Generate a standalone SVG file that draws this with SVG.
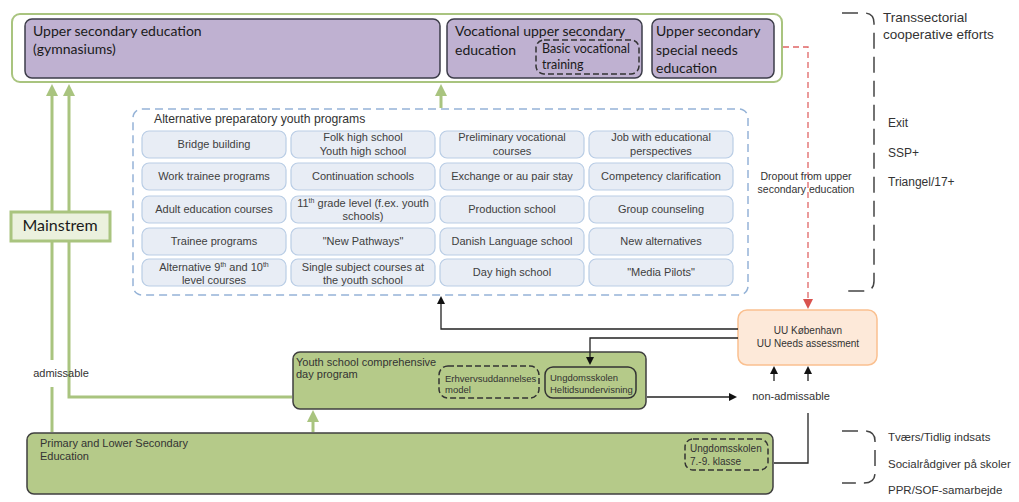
<svg xmlns="http://www.w3.org/2000/svg" width="1019" height="502" viewBox="0 0 1019 502">
<style>
  .cal { font-family: Lato, "Open Sans", sans-serif; fill: #1a1a1a; }
  .ar { font-family: "Liberation Sans", Arial, sans-serif; fill: #333; }
  .purple { fill: #BFB1D1; stroke: #3d3d4a; stroke-width: 1.5; }
  .gbox { fill: #B5CA89; stroke: #3f3f3f; stroke-width: 1.5; }
  .cell { fill: #E8EDF5; stroke: #B9CDE5; stroke-width: 1.2; }
  .cellt { font-family: "Liberation Sans", Arial, sans-serif; font-size: 11px; fill: #404040; text-anchor: middle; }
  .dashd { fill: none; stroke: #333; stroke-width: 1.5; stroke-dasharray: 6 3; }
  .gline { fill: none; stroke: #A9C47F; stroke-width: 3; }
  .bline { fill: none; stroke: #222; stroke-width: 1.3; }
  .brace { fill: none; stroke: #444; stroke-width: 1.5; stroke-dasharray: 16 8; }
  .sup { font-size: 7px; }
</style>
<defs>
  <marker id="ga" viewBox="0 0 12 12" markerWidth="12" markerHeight="12" refX="3" refY="6" orient="auto" markerUnits="userSpaceOnUse">
    <path d="M0,0 L12,6 L0,12 z" fill="#A9C47F"/>
  </marker>
  <marker id="ba" viewBox="0 0 8 8" markerWidth="8" markerHeight="8" refX="1" refY="4" orient="auto" markerUnits="userSpaceOnUse">
    <path d="M0,0 L8,4 L0,8 z" fill="#111"/>
  </marker>
  <marker id="ra" viewBox="0 0 10 10" markerWidth="10" markerHeight="10" refX="1" refY="5" orient="auto" markerUnits="userSpaceOnUse">
    <path d="M0,0 L10,5 L0,10 z" fill="#D9534F"/>
  </marker>
</defs>
<rect width="1019" height="502" fill="#ffffff"/>

<!-- upper secondary frame -->
<g id="upper-frame">
  <rect x="12" y="14" width="770" height="68" rx="8" fill="#ffffff" stroke="#A9C47F" stroke-width="2"/>
</g>
<g id="gymnasium">
  <rect class="purple" x="25" y="19" width="415" height="59" rx="7"/>
  <text class="cal" x="33" y="36" font-size="14">Upper secondary education</text>
  <text class="cal" x="33" y="54" font-size="14">(gymnasiums)</text>
</g>
<g id="vocational">
  <rect class="purple" x="447" y="19" width="195" height="59" rx="7"/>
  <text class="cal" x="455" y="36" font-size="14">Vocational upper secondary</text>
  <text class="cal" x="455" y="55" font-size="14">education</text>
</g>
<g id="basic-vocational">
  <rect class="dashd" x="536" y="40" width="103" height="34" rx="8"/>
  <text class="cal" x="542" y="53" font-size="12.5">Basic vocational</text>
  <text class="cal" x="542" y="69" font-size="12.5">training</text>
</g>
<g id="special-needs">
  <rect class="purple" x="652" y="19" width="122" height="59" rx="7"/>
  <text class="cal" x="656" y="36" font-size="14">Upper secondary</text>
  <text class="cal" x="656" y="55" font-size="14">special needs</text>
  <text class="cal" x="656" y="73" font-size="14">education</text>
</g>

<!-- alternative programs -->
<g id="alternative-programs">
  <rect x="133" y="109" width="615" height="186" rx="9" fill="none" stroke="#95B3D7" stroke-width="1.5" stroke-dasharray="8 5"/>
  <text class="ar" x="154" y="123" font-size="12.2" fill="#333">Alternative preparatory youth programs</text>
</g>
<g id="cells">
  <g id="c-bridge"><rect class="cell" x="142" y="131" width="144" height="27" rx="7"/><text class="cellt" x="214" y="148">Bridge building</text></g>
  <g id="c-folk"><rect class="cell" x="291" y="131" width="144" height="27" rx="7"/><text class="cellt" x="363" y="141">Folk high school</text><text class="cellt" x="363" y="155">Youth high school</text></g>
  <g id="c-prelim"><rect class="cell" x="440" y="131" width="144" height="27" rx="7"/><text class="cellt" x="512" y="141">Preliminary vocational</text><text class="cellt" x="512" y="155">courses</text></g>
  <g id="c-job"><rect class="cell" x="589" y="131" width="144" height="27" rx="7"/><text class="cellt" x="661" y="141">Job with educational</text><text class="cellt" x="661" y="155">perspectives</text></g>

  <g id="c-work"><rect class="cell" x="142" y="163" width="144" height="27" rx="7"/><text class="cellt" x="214" y="180">Work trainee programs</text></g>
  <g id="c-cont"><rect class="cell" x="291" y="163" width="144" height="27" rx="7"/><text class="cellt" x="363" y="180">Continuation schools</text></g>
  <g id="c-exch"><rect class="cell" x="440" y="163" width="144" height="27" rx="7"/><text class="cellt" x="512" y="180">Exchange or au pair stay</text></g>
  <g id="c-comp"><rect class="cell" x="589" y="163" width="144" height="27" rx="7"/><text class="cellt" x="661" y="180">Competency clarification</text></g>

  <g id="c-adult"><rect class="cell" x="142" y="196" width="144" height="27" rx="7"/><text class="cellt" x="214" y="213">Adult education courses</text></g>
  <g id="c-11th"><rect class="cell" x="291" y="196" width="144" height="27" rx="7"/><text class="cellt" x="363" y="207">11<tspan class="sup" dy="-4">th</tspan><tspan dy="4"> grade level (f.ex. youth</tspan></text><text class="cellt" x="363" y="220">schools)</text></g>
  <g id="c-prod"><rect class="cell" x="440" y="196" width="144" height="27" rx="7"/><text class="cellt" x="512" y="213">Production school</text></g>
  <g id="c-group"><rect class="cell" x="589" y="196" width="144" height="27" rx="7"/><text class="cellt" x="661" y="213">Group counseling</text></g>

  <g id="c-trainee"><rect class="cell" x="142" y="228" width="144" height="27" rx="7"/><text class="cellt" x="214" y="245">Trainee programs</text></g>
  <g id="c-newpath"><rect class="cell" x="291" y="228" width="144" height="27" rx="7"/><text class="cellt" x="363" y="245">"New Pathways"</text></g>
  <g id="c-danish"><rect class="cell" x="440" y="228" width="144" height="27" rx="7"/><text class="cellt" x="512" y="245">Danish Language school</text></g>
  <g id="c-newalt"><rect class="cell" x="589" y="228" width="144" height="27" rx="7"/><text class="cellt" x="661" y="245">New alternatives</text></g>

  <g id="c-alt910"><rect class="cell" x="142" y="259" width="144" height="27" rx="7"/><text class="cellt" x="214" y="271">Alternative 9<tspan class="sup" dy="-4">th</tspan><tspan dy="4"> and 10</tspan><tspan class="sup" dy="-4">th</tspan></text><text class="cellt" x="214" y="284">level courses</text></g>
  <g id="c-single"><rect class="cell" x="291" y="259" width="144" height="27" rx="7"/><text class="cellt" x="363" y="271">Single subject courses at</text><text class="cellt" x="363" y="284">the youth school</text></g>
  <g id="c-day"><rect class="cell" x="440" y="259" width="144" height="27" rx="7"/><text class="cellt" x="512" y="276">Day high school</text></g>
  <g id="c-media"><rect class="cell" x="589" y="259" width="144" height="27" rx="7"/><text class="cellt" x="661" y="276">"Media Pilots"</text></g>
</g>

<!-- UU -->
<g id="uu">
  <rect x="738" y="310" width="139" height="55" rx="9" fill="#FDE9D9" stroke="#FAC090" stroke-width="1.5"/>
  <text class="ar" x="808" y="334" font-size="10" text-anchor="middle">UU København</text>
  <text class="ar" x="808" y="347" font-size="10" text-anchor="middle">UU Needs assessment</text>
</g>

<!-- youth school -->
<g id="youth-school">
  <rect class="gbox" x="293" y="352" width="353" height="57" rx="7"/>
  <text class="ar" x="296" y="366" font-size="11" fill="#222">Youth school comprehensive</text>
  <text class="ar" x="296" y="378" font-size="11" fill="#222">day program</text>
</g>
<g id="erhverv">
  <rect class="dashd" x="439" y="366" width="100" height="32" rx="9"/>
  <text class="ar" x="445" y="382" font-size="9.5" fill="#222">Erhvervsuddannelses</text>
  <text class="ar" x="445" y="393" font-size="9.5" fill="#222">model</text>
</g>
<g id="heltid">
  <rect x="545" y="367" width="91" height="31" rx="8" fill="none" stroke="#333" stroke-width="1.5"/>
  <text class="ar" x="550" y="381" font-size="9.5" fill="#222">Ungdomsskolen</text>
  <text class="ar" x="550" y="393" font-size="9.5" fill="#222">Heltidsundervisning</text>
</g>

<!-- primary -->
<g id="primary">
  <rect class="gbox" x="27" y="433" width="746" height="61" rx="7"/>
  <text class="ar" x="40" y="447" font-size="11" fill="#222">Primary and Lower Secondary</text>
  <text class="ar" x="40" y="460" font-size="11" fill="#222">Education</text>
</g>
<g id="ungdom79">
  <rect class="dashd" x="685" y="439" width="83" height="31" rx="8"/>
  <text class="ar" x="690" y="452" font-size="10" fill="#222">Ungdomsskolen</text>
  <text class="ar" x="690" y="465" font-size="10" fill="#222">7.-9. klasse</text>
</g>

<!-- connectors -->
<g id="connectors">
  <line class="gline" x1="52" y1="432" x2="52" y2="387"/>
  <line class="gline" x1="52" y1="360" x2="52" y2="93" marker-end="url(#ga)"/>
  <polyline class="gline" points="292,397 69,397 69,93" marker-end="url(#ga)"/>
  <line class="gline" x1="441" y1="108" x2="441" y2="93" marker-end="url(#ga)"/>
  <line class="gline" x1="313" y1="432" x2="313" y2="419" marker-end="url(#ga)"/>
  <polyline points="783,47 808,47 808,300" fill="none" stroke="#E06666" stroke-width="1.3" stroke-dasharray="6 4" marker-end="url(#ra)"/>
  <polyline class="bline" points="738,329 441,329 441,303" marker-end="url(#ba)"/>
  <polyline class="bline" points="738,338 590,338 590,358" marker-end="url(#ba)"/>
  <line class="bline" x1="647" y1="397" x2="730" y2="397" marker-end="url(#ba)"/>
  <line class="bline" x1="774" y1="381" x2="774" y2="373" marker-end="url(#ba)"/>
  <line class="bline" x1="808" y1="381" x2="808" y2="373" marker-end="url(#ba)"/>
  <polyline class="bline" points="774,463 808,463 808,413"/>
</g>

<!-- mainstream label -->
<g id="mainstrem">
  <rect x="11" y="212" width="99" height="29" fill="#EBF1DE" stroke="#A9C47F" stroke-width="3"/>
  <text class="cal" x="60" y="231" font-size="16" text-anchor="middle">Mainstrem</text>
</g>

<!-- labels -->
<g id="dropout-label">
  <text class="ar" x="806" y="180" font-size="10.5" text-anchor="middle">Dropout from upper</text>
  <text class="ar" x="806" y="193" font-size="10.5" text-anchor="middle">secondary education</text>
</g>
<g id="non-admissable">
  <text class="ar" x="791" y="400" font-size="11" text-anchor="middle">non-admissable</text>
</g>
<g id="admissable">
  <text class="ar" x="61" y="377" font-size="11" text-anchor="middle" fill="#222">admissable</text>
</g>

<!-- right braces -->
<g id="transsectorial">
  <path class="brace" d="M842,13 L864,13 Q874,13 874,23 L874,281 Q874,291 864,291 L842,291"/>
  <text class="ar" x="883" y="22" font-size="13.5">Transsectorial</text>
  <text class="ar" x="883" y="39" font-size="13.5">cooperative efforts</text>
  <text class="ar" x="888" y="127" font-size="12">Exit</text>
  <text class="ar" x="888" y="157" font-size="12">SSP+</text>
  <text class="ar" x="888" y="186" font-size="12">Triangel/17+</text>
</g>
<g id="early-effort">
  <path class="brace" d="M842,431 L864,431 Q875,431 875,441 L875,473 Q875,483 864,483 L842,483"/>
  <text class="ar" x="888" y="441" font-size="11.5">Tværs/Tidlig indsats</text>
  <text class="ar" x="888" y="468" font-size="11.5">Socialrådgiver på skoler</text>
  <text class="ar" x="888" y="494" font-size="11.5">PPR/SOF-samarbejde</text>
</g>
</svg>
